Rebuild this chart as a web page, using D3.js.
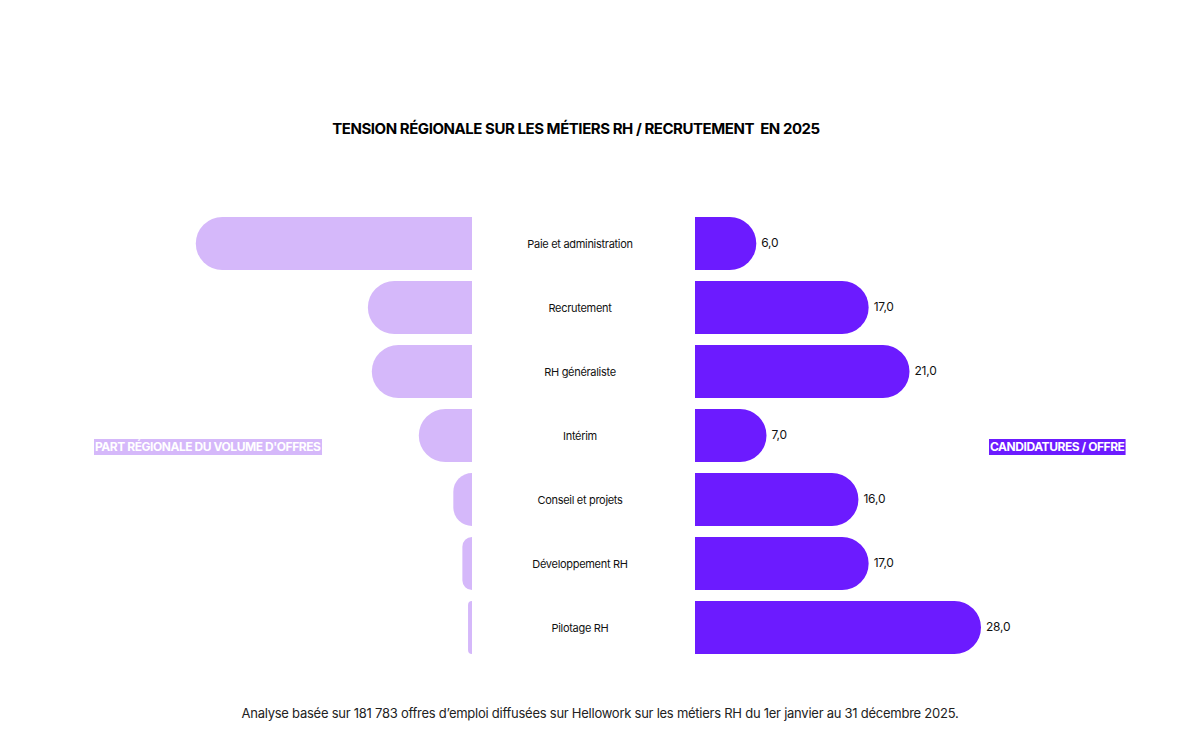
<!DOCTYPE html>
<html>
<head>
<meta charset="utf-8">
<script src="https://cdn.jsdelivr.net/npm/d3@7"></script>
<style>
  body { margin: 0; background: #fff; }
  svg { display: block; font-family: Inter, "Noto Sans", sans-serif; }
</style>
</head>
<body>
<svg id="chart" width="1200" height="740"></svg>
<script>
const categories = ['Paie et administration', 'Recrutement', 'RH généraliste', 'Intérim',
  'Conseil et projets', 'Développement RH', 'Pilotage RH'];
// part régionale du volume d'offres (%), estimated — no labels in the source
const shareValues = [48.8, 18.4, 17.7, 9.4, 3.3, 1.7, 0.7];
// candidatures / offre
const ratioValues = [6.0, 17.0, 21.0, 7.0, 16.0, 17.0, 28.0];

const leftColor = '#d5b8fa';
const rightColor = '#6c1bff';

const svg = d3.select('#chart');
const fmt = v => d3.format('.1f')(v).replace('.', ',');

const y = d3.scaleBand().domain(categories).range([217, 654]).paddingInner(0.172).paddingOuter(0);
const xLeft = d3.scaleLinear().domain([0, 50]).range([0, 283]);
const xRight = d3.scaleLinear().domain([0, 28]).range([0, 286]);
const leftEdge = 472, rightEdge = 695, mid = 580;

// title
svg.append('text')
  .attr('x', 576).attr('y', 134)
  .attr('text-anchor', 'middle')
  .attr('font-size', 15).attr('font-weight', 700)
  .attr('letter-spacing', '-0.45')
  .attr('fill', '#000')
  .attr('xml:space', 'preserve')
  .text('TENSION RÉGIONALE SUR LES MÉTIERS RH / RECRUTEMENT  EN 2025');

// bar path with rounded outer end; dir = -1 to the left, +1 to the right
function barPath(x0, y0, w, h, dir) {
  const r = Math.min(h / 2, w);
  const p = d3.path();
  const xe = x0 + dir * w;
  p.moveTo(x0, y0);
  p.lineTo(xe - dir * r, y0);
  p.arcTo(xe, y0, xe, y0 + r, r);
  p.lineTo(xe, y0 + h - r);
  p.arcTo(xe, y0 + h, xe - dir * r, y0 + h, r);
  p.lineTo(x0, y0 + h);
  p.closePath();
  return p.toString();
}

const rows = categories.map((c, i) => ({ cat: c, share: shareValues[i], ratio: ratioValues[i] }));

svg.append('g').selectAll('path')
  .data(rows)
  .join('path')
  .attr('fill', leftColor)
  .attr('d', d => barPath(leftEdge, y(d.cat), xLeft(d.share), y.bandwidth(), -1));

svg.append('g').selectAll('path')
  .data(rows)
  .join('path')
  .attr('fill', rightColor)
  .attr('d', d => barPath(rightEdge, y(d.cat), xRight(d.ratio), y.bandwidth(), 1));

svg.append('g').selectAll('text')
  .data(rows)
  .join('text')
  .attr('x', d => rightEdge + xRight(d.ratio) + 5)
  .attr('y', d => y(d.cat) + y.bandwidth() / 2 - 1)
  .attr('dy', '0.35em')
  .attr('font-size', 12).attr('fill', '#111')
  .attr('letter-spacing', '-0.2')
  .text(d => fmt(d.ratio));

svg.append('g').selectAll('text')
  .data(rows)
  .join('text')
  .attr('x', mid)
  .attr('y', d => y(d.cat) + y.bandwidth() / 2 + 1)
  .attr('dy', '0.35em')
  .attr('text-anchor', 'middle')
  .attr('font-size', 11).attr('fill', '#111')
  .attr('letter-spacing', '-0.3')
  .text(d => d.cat);

// side labels with coloured background
function tag(x, text, bg) {
  const g = svg.append('g');
  const t = g.append('text')
    .attr('x', x).attr('y', 447)
    .attr('dy', '0.35em')
    .attr('font-size', 12).attr('font-weight', 700)
    .attr('letter-spacing', '-0.45')
    .attr('fill', '#fff')
    .text(text);
  const b = t.node().getBBox();
  g.insert('rect', 'text')
    .attr('x', b.x - 1).attr('y', 439)
    .attr('width', b.width + 2).attr('height', 16)
    .attr('fill', bg);
}
tag(95, "PART RÉGIONALE DU VOLUME D'OFFRES", leftColor);
tag(990, 'CANDIDATURES / OFFRE', rightColor);

// footnote
svg.append('text')
  .attr('x', 600).attr('y', 718)
  .attr('text-anchor', 'middle')
  .attr('font-size', 13).attr('fill', '#222')
  .attr('letter-spacing', '-0.25')
  .text('Analyse basée sur 181 783 offres d’emploi diffusées sur Hellowork sur les métiers RH du 1er janvier au 31 décembre 2025.');
</script>
</body>
</html>
